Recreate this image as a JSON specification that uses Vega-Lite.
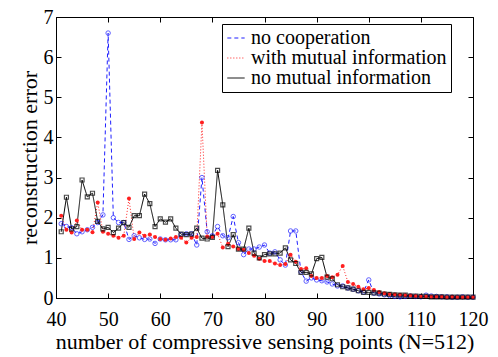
{
  "$schema": "https://vega.github.io/schema/vega-lite/v6.json",
  "width": 417,
  "height": 281,
  "autosize": "none",
  "padding": {"left": 56, "top": 17, "right": 25, "bottom": 59},
  "background": "white",
  "config": {
    "font": "Liberation Serif",
    "text": {"font": "Liberation Serif"},
    "view": {"stroke": "black", "strokeWidth": 1},
    "legend": {"labelFont": "Liberation Serif", "titleFont": "Liberation Serif"},
    "axis": {"grid": false, "domainColor": "black", "tickColor": "black", "labelColor": "black", "titleColor": "black", "labelFont": "Liberation Serif", "titleFont": "Liberation Serif", "labelFontSize": 20, "titleFontSize": 22, "titleFontWeight": "normal", "tickSize": -5, "labelFlush": false, "labelOverlap": false},
    "axisX": {"labelPadding": 16, "titlePadding": 2},
    "axisY": {"labelPadding": 8, "titlePadding": 2}
  },
  "datasets": {
    "err": [
      {"n":41,"s":"no cooperation","v":1.85},{"n":42,"s":"no cooperation","v":1.78},{"n":43,"s":"no cooperation","v":1.75},{"n":44,"s":"no cooperation","v":1.6},{"n":45,"s":"no cooperation","v":1.65},{"n":46,"s":"no cooperation","v":1.7},{"n":47,"s":"no cooperation","v":1.76},{"n":48,"s":"no cooperation","v":1.88},{"n":49,"s":"no cooperation","v":2.07},{"n":50,"s":"no cooperation","v":6.6},
      {"n":51,"s":"no cooperation","v":2.0},{"n":52,"s":"no cooperation","v":1.88},{"n":53,"s":"no cooperation","v":1.88},{"n":54,"s":"no cooperation","v":1.46},{"n":55,"s":"no cooperation","v":1.55},{"n":56,"s":"no cooperation","v":1.5},{"n":57,"s":"no cooperation","v":1.46},{"n":58,"s":"no cooperation","v":1.47},{"n":59,"s":"no cooperation","v":1.36},{"n":60,"s":"no cooperation","v":1.47},
      {"n":61,"s":"no cooperation","v":1.45},{"n":62,"s":"no cooperation","v":1.45},{"n":63,"s":"no cooperation","v":1.45},{"n":64,"s":"no cooperation","v":1.58},{"n":65,"s":"no cooperation","v":1.6},{"n":66,"s":"no cooperation","v":1.6},{"n":67,"s":"no cooperation","v":1.32},{"n":68,"s":"no cooperation","v":3.0},{"n":69,"s":"no cooperation","v":1.65},{"n":70,"s":"no cooperation","v":1.55},
      {"n":71,"s":"no cooperation","v":1.78},{"n":72,"s":"no cooperation","v":1.55},{"n":73,"s":"no cooperation","v":1.5},{"n":74,"s":"no cooperation","v":2.03},{"n":75,"s":"no cooperation","v":1.38},{"n":76,"s":"no cooperation","v":1.08},{"n":77,"s":"no cooperation","v":1.22},{"n":78,"s":"no cooperation","v":1.22},{"n":79,"s":"no cooperation","v":1.27},{"n":80,"s":"no cooperation","v":1.32},
      {"n":81,"s":"no cooperation","v":1.12},{"n":82,"s":"no cooperation","v":1.15},{"n":83,"s":"no cooperation","v":0.95},{"n":84,"s":"no cooperation","v":0.82},{"n":85,"s":"no cooperation","v":1.67},{"n":86,"s":"no cooperation","v":1.67},{"n":87,"s":"no cooperation","v":0.65},{"n":88,"s":"no cooperation","v":0.42},{"n":89,"s":"no cooperation","v":0.5},{"n":90,"s":"no cooperation","v":0.45},
      {"n":91,"s":"no cooperation","v":0.43},{"n":92,"s":"no cooperation","v":0.4},{"n":93,"s":"no cooperation","v":0.35},{"n":94,"s":"no cooperation","v":0.3},{"n":95,"s":"no cooperation","v":0.3},{"n":96,"s":"no cooperation","v":0.25},{"n":97,"s":"no cooperation","v":0.22},{"n":98,"s":"no cooperation","v":0.18},{"n":99,"s":"no cooperation","v":0.15},{"n":100,"s":"no cooperation","v":0.45},
      {"n":101,"s":"no cooperation","v":0.12},{"n":102,"s":"no cooperation","v":0.1},{"n":103,"s":"no cooperation","v":0.08},{"n":104,"s":"no cooperation","v":0.06},{"n":105,"s":"no cooperation","v":0.04},{"n":106,"s":"no cooperation","v":0.03},{"n":107,"s":"no cooperation","v":0.04},{"n":108,"s":"no cooperation","v":0.05},{"n":109,"s":"no cooperation","v":0.04},{"n":110,"s":"no cooperation","v":0.03},
      {"n":111,"s":"no cooperation","v":0.07},{"n":112,"s":"no cooperation","v":0.05},{"n":113,"s":"no cooperation","v":0.04},{"n":114,"s":"no cooperation","v":0.03},{"n":115,"s":"no cooperation","v":0.03},{"n":116,"s":"no cooperation","v":0.02},{"n":117,"s":"no cooperation","v":0.02},{"n":118,"s":"no cooperation","v":0.03},{"n":119,"s":"no cooperation","v":0.02},{"n":120,"s":"no cooperation","v":0.02},

      {"n":41,"s":"with mutual information","v":2.05},{"n":42,"s":"with mutual information","v":1.7},{"n":43,"s":"with mutual information","v":1.63},{"n":44,"s":"with mutual information","v":1.93},{"n":45,"s":"with mutual information","v":1.7},{"n":46,"s":"with mutual information","v":1.7},{"n":47,"s":"with mutual information","v":1.64},{"n":48,"s":"with mutual information","v":2.38},{"n":49,"s":"with mutual information","v":1.65},{"n":50,"s":"with mutual information","v":1.6},
      {"n":51,"s":"with mutual information","v":1.55},{"n":52,"s":"with mutual information","v":1.5},{"n":53,"s":"with mutual information","v":1.55},{"n":54,"s":"with mutual information","v":2.48},{"n":55,"s":"with mutual information","v":1.47},{"n":56,"s":"with mutual information","v":1.63},{"n":57,"s":"with mutual information","v":1.55},{"n":58,"s":"with mutual information","v":1.58},{"n":59,"s":"with mutual information","v":1.52},{"n":60,"s":"with mutual information","v":1.47},
      {"n":61,"s":"with mutual information","v":1.45},{"n":62,"s":"with mutual information","v":1.48},{"n":63,"s":"with mutual information","v":1.52},{"n":64,"s":"with mutual information","v":1.5},{"n":65,"s":"with mutual information","v":1.38},{"n":66,"s":"with mutual information","v":1.5},{"n":67,"s":"with mutual information","v":1.52},{"n":68,"s":"with mutual information","v":4.37},{"n":69,"s":"with mutual information","v":1.53},{"n":70,"s":"with mutual information","v":1.52},
      {"n":71,"s":"with mutual information","v":1.6},{"n":72,"s":"with mutual information","v":1.26},{"n":73,"s":"with mutual information","v":1.35},{"n":74,"s":"with mutual information","v":1.28},{"n":75,"s":"with mutual information","v":1.22},{"n":76,"s":"with mutual information","v":1.2},{"n":77,"s":"with mutual information","v":1.12},{"n":78,"s":"with mutual information","v":1.05},{"n":79,"s":"with mutual information","v":0.98},{"n":80,"s":"with mutual information","v":0.92},
      {"n":81,"s":"with mutual information","v":0.92},{"n":82,"s":"with mutual information","v":0.86},{"n":83,"s":"with mutual information","v":0.82},{"n":84,"s":"with mutual information","v":0.85},{"n":85,"s":"with mutual information","v":1.08},{"n":86,"s":"with mutual information","v":0.9},{"n":87,"s":"with mutual information","v":0.72},{"n":88,"s":"with mutual information","v":0.74},{"n":89,"s":"with mutual information","v":0.55},{"n":90,"s":"with mutual information","v":0.5},
      {"n":91,"s":"with mutual information","v":0.5},{"n":92,"s":"with mutual information","v":0.55},{"n":93,"s":"with mutual information","v":0.52},{"n":94,"s":"with mutual information","v":0.58},{"n":95,"s":"with mutual information","v":0.8},{"n":96,"s":"with mutual information","v":0.4},{"n":97,"s":"with mutual information","v":0.35},{"n":98,"s":"with mutual information","v":0.28},{"n":99,"s":"with mutual information","v":0.22},{"n":100,"s":"with mutual information","v":0.25},
      {"n":101,"s":"with mutual information","v":0.2},{"n":102,"s":"with mutual information","v":0.15},{"n":103,"s":"with mutual information","v":0.12},{"n":104,"s":"with mutual information","v":0.1},{"n":105,"s":"with mutual information","v":0.09},{"n":106,"s":"with mutual information","v":0.08},{"n":107,"s":"with mutual information","v":0.07},{"n":108,"s":"with mutual information","v":0.06},{"n":109,"s":"with mutual information","v":0.05},{"n":110,"s":"with mutual information","v":0.04},
      {"n":111,"s":"with mutual information","v":0.04},{"n":112,"s":"with mutual information","v":0.03},{"n":113,"s":"with mutual information","v":0.03},{"n":114,"s":"with mutual information","v":0.03},{"n":115,"s":"with mutual information","v":0.02},{"n":116,"s":"with mutual information","v":0.03},{"n":117,"s":"with mutual information","v":0.02},{"n":118,"s":"with mutual information","v":0.02},{"n":119,"s":"with mutual information","v":0.02},{"n":120,"s":"with mutual information","v":0.02},

      {"n":41,"s":"no mutual information","v":1.65},{"n":42,"s":"no mutual information","v":2.51},{"n":43,"s":"no mutual information","v":1.72},{"n":44,"s":"no mutual information","v":1.78},{"n":45,"s":"no mutual information","v":2.94},{"n":46,"s":"no mutual information","v":2.52},{"n":47,"s":"no mutual information","v":2.61},{"n":48,"s":"no mutual information","v":1.91},{"n":49,"s":"no mutual information","v":1.72},{"n":50,"s":"no mutual information","v":1.76},
      {"n":51,"s":"no mutual information","v":1.63},{"n":52,"s":"no mutual information","v":1.74},{"n":53,"s":"no mutual information","v":1.88},{"n":54,"s":"no mutual information","v":1.76},{"n":55,"s":"no mutual information","v":2.05},{"n":56,"s":"no mutual information","v":2.05},{"n":57,"s":"no mutual information","v":2.59},{"n":58,"s":"no mutual information","v":2.35},{"n":59,"s":"no mutual information","v":1.78},{"n":60,"s":"no mutual information","v":1.97},
      {"n":61,"s":"no mutual information","v":1.89},{"n":62,"s":"no mutual information","v":1.97},{"n":63,"s":"no mutual information","v":1.74},{"n":64,"s":"no mutual information","v":1.59},{"n":65,"s":"no mutual information","v":1.58},{"n":66,"s":"no mutual information","v":1.59},{"n":67,"s":"no mutual information","v":1.74},{"n":68,"s":"no mutual information","v":1.49},{"n":69,"s":"no mutual information","v":1.47},{"n":70,"s":"no mutual information","v":1.51},
      {"n":71,"s":"no mutual information","v":3.18},{"n":72,"s":"no mutual information","v":2.32},{"n":73,"s":"no mutual information","v":1.28},{"n":74,"s":"no mutual information","v":1.58},{"n":75,"s":"no mutual information","v":1.22},{"n":76,"s":"no mutual information","v":1.22},{"n":77,"s":"no mutual information","v":1.74},{"n":78,"s":"no mutual information","v":1.12},{"n":79,"s":"no mutual information","v":1.0},{"n":80,"s":"no mutual information","v":1.08},
      {"n":81,"s":"no mutual information","v":1.1},{"n":82,"s":"no mutual information","v":1.1},{"n":83,"s":"no mutual information","v":1.12},{"n":84,"s":"no mutual information","v":1.25},{"n":85,"s":"no mutual information","v":0.95},{"n":86,"s":"no mutual information","v":0.86},{"n":87,"s":"no mutual information","v":0.64},{"n":88,"s":"no mutual information","v":0.64},{"n":89,"s":"no mutual information","v":0.6},{"n":90,"s":"no mutual information","v":0.98},
      {"n":91,"s":"no mutual information","v":1.01},{"n":92,"s":"no mutual information","v":0.52},{"n":93,"s":"no mutual information","v":0.48},{"n":94,"s":"no mutual information","v":0.33},{"n":95,"s":"no mutual information","v":0.28},{"n":96,"s":"no mutual information","v":0.25},{"n":97,"s":"no mutual information","v":0.22},{"n":98,"s":"no mutual information","v":0.18},{"n":99,"s":"no mutual information","v":0.14},{"n":100,"s":"no mutual information","v":0.14},
      {"n":101,"s":"no mutual information","v":0.13},{"n":102,"s":"no mutual information","v":0.12},{"n":103,"s":"no mutual information","v":0.1},{"n":104,"s":"no mutual information","v":0.09},{"n":105,"s":"no mutual information","v":0.08},{"n":106,"s":"no mutual information","v":0.07},{"n":107,"s":"no mutual information","v":0.07},{"n":108,"s":"no mutual information","v":0.05},{"n":109,"s":"no mutual information","v":0.05},{"n":110,"s":"no mutual information","v":0.04},
      {"n":111,"s":"no mutual information","v":0.04},{"n":112,"s":"no mutual information","v":0.03},{"n":113,"s":"no mutual information","v":0.03},{"n":114,"s":"no mutual information","v":0.03},{"n":115,"s":"no mutual information","v":0.02},{"n":116,"s":"no mutual information","v":0.02},{"n":117,"s":"no mutual information","v":0.02},{"n":118,"s":"no mutual information","v":0.02},{"n":119,"s":"no mutual information","v":0.02},{"n":120,"s":"no mutual information","v":0.02}
    ]
  },
  "data": {"name": "err"},
  "resolve": {"axis": {"x": "independent", "y": "independent"}},
  "layer": [
    {
      "layer": [
        {
          "mark": {"type": "line", "strokeWidth": 1},
          "encoding": {
            "x": {"field": "n", "type": "quantitative", "scale": {"domain": [40, 120], "nice": false}, "axis": {"values": [40,50,60,70,80,90,100,110,120], "title": "number of compressive sensing points (N=512)"}},
            "y": {"field": "v", "type": "quantitative", "scale": {"domain": [0, 7], "nice": false}, "axis": {"values": [0,1,2,3,4,5,6,7], "title": "reconstruction error"}},
            "color": {"field": "s", "type": "nominal", "scale": {"domain": ["no cooperation", "with mutual information", "no mutual information"], "range": ["#1f1fff", "#ff1f1f", "#000000"]}, "legend": {"title": null, "orient": "none", "legendX": 166, "legendY": 7, "symbolType": "stroke", "symbolSize": 300, "symbolStrokeWidth": 1, "labelFont": "Liberation Serif", "labelFontSize": 20, "labelColor": "black", "strokeColor": "black", "fillColor": "white", "padding": 4, "rowPadding": 0, "labelOffset": 5, "labelLimit": 300}},
            "strokeDash": {"field": "s", "type": "nominal", "scale": {"domain": ["no cooperation", "with mutual information", "no mutual information"], "range": [[4, 3], [1, 2], [1, 0]]}, "legend": {"title": null, "orient": "none", "legendX": 166, "legendY": 7}},
            "order": {"field": "n", "type": "quantitative"}
          }
        },
        {
          "transform": [{"filter": "datum.s === 'no cooperation'"}],
          "mark": {"type": "point", "shape": "circle", "filled": false, "size": 20, "strokeWidth": 1, "color": "#1f1fff"},
          "encoding": {"x": {"field": "n", "type": "quantitative"}, "y": {"field": "v", "type": "quantitative"}}
        },
        {
          "transform": [{"filter": "datum.s === 'with mutual information'"}],
          "mark": {"type": "point", "shape": "circle", "filled": true, "size": 16, "opacity": 1, "color": "#ff1f1f"},
          "encoding": {"x": {"field": "n", "type": "quantitative"}, "y": {"field": "v", "type": "quantitative"}}
        },
        {
          "transform": [{"filter": "datum.s === 'no mutual information'"}],
          "mark": {"type": "point", "shape": "square", "filled": false, "size": 16, "strokeWidth": 1.2, "color": "#000000"},
          "encoding": {"x": {"field": "n", "type": "quantitative"}, "y": {"field": "v", "type": "quantitative"}}
        }
      ]
    },
    {
      "mark": {"type": "point", "opacity": 0},
      "encoding": {
        "x": {"field": "n", "type": "quantitative", "axis": {"orient": "top", "values": [40,50,60,70,80,90,100,110,120], "labels": false, "title": null, "domain": false}},
        "y": {"field": "v", "type": "quantitative", "axis": {"orient": "right", "values": [0,1,2,3,4,5,6,7], "labels": false, "title": null, "domain": false}}
      }
    }
  ]
}
